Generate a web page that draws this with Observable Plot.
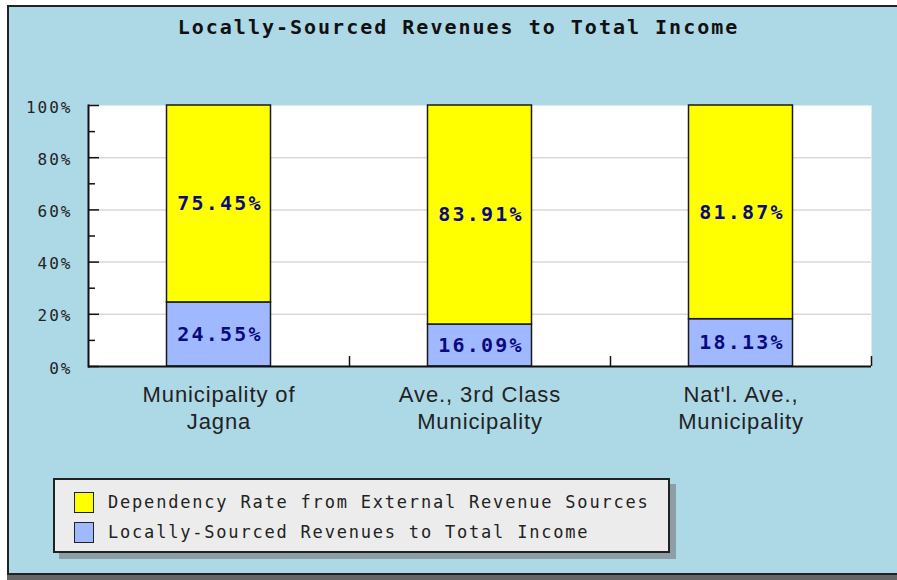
<!DOCTYPE html>
<html>
<head>
<meta charset="utf-8">
<script src="https://cdn.jsdelivr.net/npm/d3@7"></script>
<script src="https://cdn.jsdelivr.net/npm/@observablehq/plot@0.6"></script>
<style>
  html, body { margin: 0; padding: 0; width: 897px; height: 580px; overflow: hidden; background: #fff; }
  #frame { position: absolute; left: 7px; top: 5px; width: 920px; height: 570px; box-sizing: border-box;
           border: 2px solid #222; background: #add8e6; box-shadow: 0 5px 0 #666; }
  #title { position: absolute; left: 0; top: 15px; width: 917px; text-align: center; line-height: 24px;
           font: bold 20px "DejaVu Sans Mono", monospace; letter-spacing: 2px; color: #111; white-space: pre; }
  #chart { position: absolute; left: 0; top: 80px; }
  #legend { position: absolute; left: 53px; top: 478px; width: 617px; height: 75px; box-sizing: border-box;
            border: 2px solid #222; background: #ececec; box-shadow: 6px 6px 0 #8d9ea5; padding-top: 8px; }
  .item { display: flex; align-items: center; height: 32px; margin-top: -2px; }
  .sw { width: 18px; height: 19px; border: 1.5px solid #222; margin-left: 19px; margin-right: 14px; }
  .lt { font: 17px "DejaVu Sans Mono", monospace; letter-spacing: 1.8px; color: #222; white-space: pre; }
  g[aria-label="text"] text { letter-spacing: 2.2px; }
  g[aria-label="y-axis tick label"] text { letter-spacing: 2px; }
  g[aria-label="x-axis tick label"] text { letter-spacing: 0.9px; }
</style>
</head>
<body>
<div id="frame"></div>
<div id="title">Locally-Sourced Revenues to Total Income</div>
<div id="chart"></div>
<div id="legend"></div>
<script>
const categories = ["Municipality of\nJagna", "Ave., 3rd Class\nMunicipality", "Nat'l. Ave.,\nMunicipality"];
const seriesNames = ["Dependency Rate from External Revenue Sources", "Locally-Sourced Revenues to Total Income"];
const dependencyRate = [75.45, 83.91, 81.87];
const localRevenue = [24.55, 16.09, 18.13];
const yTicks = [0, 20, 40, 60, 80, 100];
const yMinorTicks = [10, 30, 50, 70, 90];
const gridTicks = [20, 40, 60, 80];
const seriesColors = ["#ffff00", "#a0b8ff"];

const rows = [];
categories.forEach((c, i) => {
  rows.push({category: c, series: seriesNames[1], value: localRevenue[i]});
  rows.push({category: c, series: seriesNames[0], value: dependencyRate[i]});
});

const W = 897, H = 380, mL = 88, mR = 26, mT = 25, mB = 94;
const step = (W - mL - mR) / categories.length;
const barInset = (step - 104) / 2;

const chart = Plot.plot({
  width: W, height: H,
  marginLeft: mL, marginRight: mR, marginTop: mT, marginBottom: mB,
  style: {background: "transparent", overflow: "visible"},
  x: {domain: categories, padding: 0, axis: null, label: null},
  y: {domain: [0, 100], axis: null, label: null},
  color: {domain: seriesNames, range: seriesColors},
  marks: [
    Plot.frame({fill: "white", stroke: null}),
    Plot.gridY(gridTicks, {stroke: "#d9d9d9", strokeOpacity: 1, strokeWidth: 1.5}),
    Plot.barY(rows, Plot.stackY({x: "category", y: "value", z: "series", fill: "series",
      stroke: "#1a1a1a", strokeWidth: 1.5, insetLeft: barInset, insetRight: barInset})),
    Plot.text(rows, Plot.stackY({x: "category", y: "value", z: "series",
      text: d => d.value.toFixed(2) + "%", fill: "#0a0a80", fontWeight: "bold",
      fontSize: 20, fontFamily: "DejaVu Sans Mono", dx: 1})),
    Plot.ruleY([0], {stroke: "#111", strokeWidth: 2}),
    Plot.ruleX(categories, {x: d => d, dx: step / 2, y1: 0, y2: 3.8, stroke: "#111", strokeWidth: 1.5}),
    Plot.tickY(yTicks, {y: d => d, x: () => categories[0], insetRight: step - 11, stroke: "#111", strokeWidth: 1.5}),
    Plot.tickY(yMinorTicks, {y: d => d, x: () => categories[0], insetRight: step - 7, stroke: "#111", strokeWidth: 1.5}),
    Plot.axisY(yTicks, {tickSize: 0, tickPadding: 16, tickFormat: d => d + "%", fontSize: 16,
      fontFamily: "DejaVu Sans Mono", fill: "#222", dy: 2}),
    Plot.frame({anchor: "left", stroke: "#111", strokeWidth: 2}),
    Plot.axisX({tickSize: 0, tickPadding: 16, fontSize: 22, fontFamily: "Liberation Sans",
      fill: "#222", lineHeight: 1.24})
  ]
});
document.getElementById("chart").appendChild(chart);

const legend = document.getElementById("legend");
seriesNames.forEach((name, i) => {
  const item = document.createElement("div");
  item.className = "item";
  const sw = document.createElement("div");
  sw.className = "sw";
  sw.style.background = seriesColors[i];
  const lt = document.createElement("span");
  lt.className = "lt";
  lt.textContent = name;
  item.appendChild(sw);
  item.appendChild(lt);
  legend.appendChild(item);
});
</script>
</body>
</html>
